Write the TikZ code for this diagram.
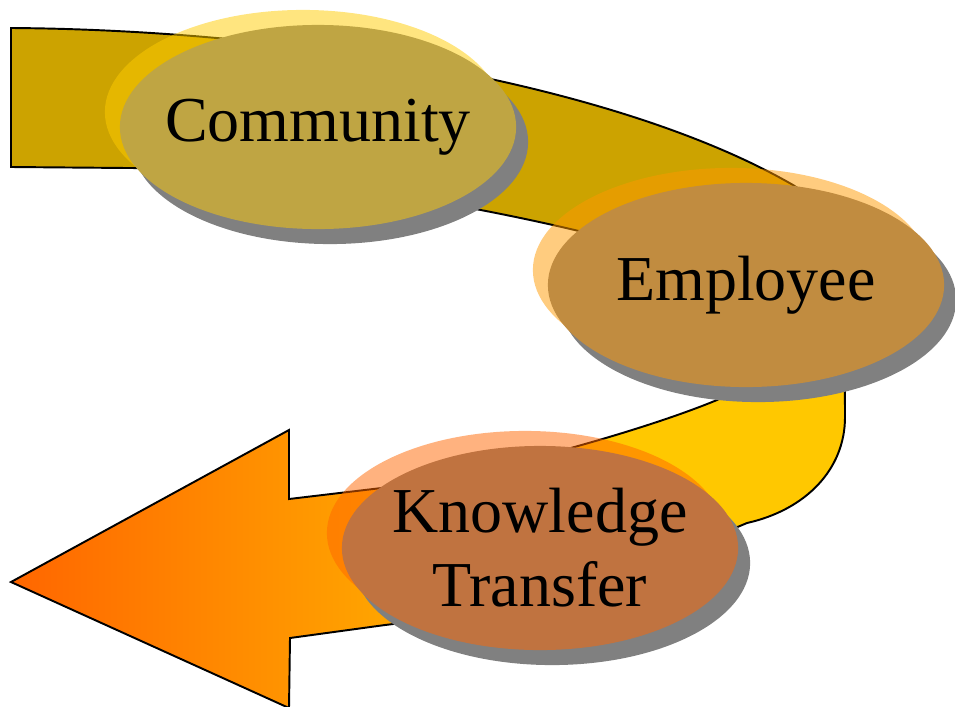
\documentclass[tikz,border=0pt]{standalone}
\usepackage{fontspec}
\setmainfont{Liberation Serif}
\usetikzlibrary{shapes.geometric,shadows}

\definecolor{bandtop}{RGB}{204,163,0}
\definecolor{bandleft}{RGB}{255,102,0}
\definecolor{bandright}{RGB}{255,200,0}
\definecolor{commfill}{RGB}{191,165,67}
\definecolor{emplfill}{RGB}{193,140,64}
\definecolor{knowfill}{RGB}{192,115,64}
\definecolor{commhalo}{RGB}{255,204,0}
\definecolor{emplhalo}{RGB}{255,153,0}
\definecolor{knowhalo}{RGB}{255,102,0}
\definecolor{shadowgray}{RGB}{128,128,128}

\tikzset{
  bubble/.style 2 args={ellipse, minimum width=3.96cm, minimum height=2.04cm,
    inner sep=-3cm, align=center, fill=#2,
    font=\fontsize{18.2pt}{21pt}\selectfont,
    general shadow={shadow xshift=-0.15cm, shadow yshift=0.15cm, fill=#1, opacity=0.5},
    general shadow={shadow xshift=0.12cm, shadow yshift=-0.15cm, fill=shadowgray}},
}

\begin{document}
\begin{tikzpicture}[x=0.01cm, y=-0.01cm]
  \useasboundingbox (0,0) rectangle (955,706);
  \path [save path=\bandpath] (11,28) .. controls (300,30) and (620,85) .. (793,185)
    .. controls (830,207) and (845,290) .. (845,417)
    .. controls (845,470) and (805,510) .. (747,523)
    .. controls (650,564) and (500,612) .. (385,625) -- (290,638)
    -- (289,708) -- (11,582) -- (289,430) -- (289,499) -- (390,487)
    .. controls (480,476) and (640,432) .. (717,400)
    .. controls (800,360) and (700,260) .. (583,232)
    .. controls (450,200) and (250,168) .. (127,168) -- (11,167) -- cycle;
  \begin{scope}
    \path [clip, use path=\bandpath];
    \fill [bandtop] (0,0) rectangle (955,300);
    \shade [left color=bandleft, right color=bandright] (11,300) rectangle (600,720);
    \fill [bandright] (599,300) rectangle (955,720);
  \end{scope}
  \draw [line width=0.55pt, use path=\bandpath];

  \node [bubble={commhalo}{commfill}] (community) at (318,127) {Community};
  \node [bubble={emplhalo}{emplfill}] (employee) at (746,285) {Employee};
  \node [bubble={knowhalo}{knowfill}] (transfer) at (540,548) {Knowledge\\Transfer};
\end{tikzpicture}
\end{document}
